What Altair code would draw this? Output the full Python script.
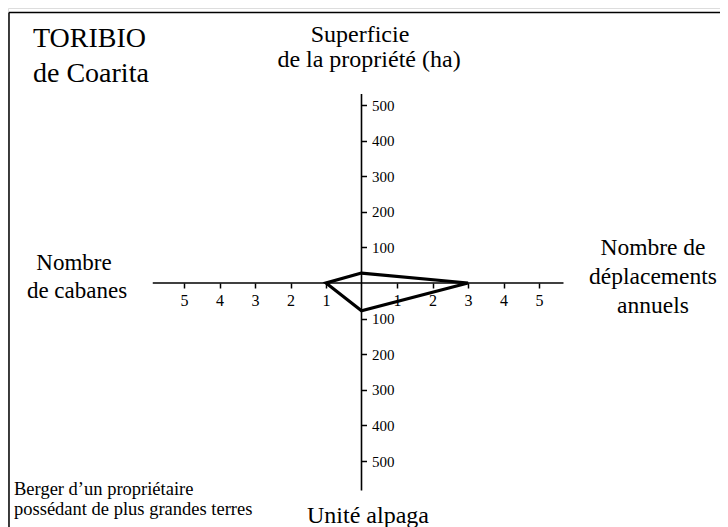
import altair as alt
import pandas as pd

# ---- data ----
axis_names = ["Superficie de la propriété (ha)", "Nombre de déplacements annuels",
              "Unité alpaga", "Nombre de cabanes"]
poly_x = [0, 3, 0, -1, 0]
poly_y = [28, 0, -78, 0, 28]
x_ticks = [-5, -4, -3, -2, -1, 1, 2, 3, 4, 5]
y_ticks = [-500, -400, -300, -200, -100, 100, 200, 300, 400, 500]
h_axis = [-5.88, 5.69]
v_axis = [531, -583]

FONT = "'Liberation Serif', 'Times New Roman', Times, 'DejaVu Serif', serif"
W, H = 712, 519
CX, CY = 353.5, 275.0          # pixel position of the origin inside the plot
PX_X, PX_Y = 35.5, 0.356       # pixels per unit

xscale = alt.Scale(domain=[-CX / PX_X, (W - CX) / PX_X], nice=False, zero=False)
yscale = alt.Scale(domain=[-(H - CY) / PX_Y, CY / PX_Y], nice=False, zero=False)

poly = pd.DataFrame({"x": poly_x, "y": poly_y, "o": list(range(len(poly_x)))})
axes_df = pd.DataFrame({
    "x": [h_axis[0], 0], "x2": [h_axis[1], 0],
    "y": [0, v_axis[0]], "y2": [0, v_axis[1]],
})

xaxis = alt.Axis(values=x_ticks, labelExpr="abs(datum.value)", offset=CY - H, orient="bottom",
                 domain=False, grid=False, title=None, tickSize=5, tickWidth=1.5,
                 tickColor="black", labelColor="black", labelFont=FONT, labelFontSize=16,
                 labelPadding=4, labelOverlap=False, labelFlush=False)
yaxis = alt.Axis(values=y_ticks, labelExpr="abs(datum.value)", offset=CX - W, orient="right",
                 domain=False, grid=False, title=None, tickSize=5, tickWidth=1.5,
                 tickColor="black", labelColor="black", labelFont=FONT, labelFontSize=15,
                 labelPadding=5, labelOverlap=False, labelFlush=False)

X = alt.X("x:Q", scale=xscale, axis=xaxis)
Y = alt.Y("y:Q", scale=yscale, axis=yaxis)

axis_lines = alt.Chart(axes_df).mark_rule(color="black", strokeWidth=1.6).encode(
    x=X, x2="x2:Q", y=Y, y2="y2:Q")

shape = alt.Chart(poly).mark_line(color="black", strokeWidth=3.2, strokeJoin="miter").encode(
    x=X, y=Y, order="o:Q")

one = pd.DataFrame({"a": [0]})


def txt(lines, x, y, size, align="center", lh=None):
    return alt.Chart(one).mark_text(
        font=FONT, fontSize=size, align=align, baseline="alphabetic", color="black",
        lineHeight=lh if lh else size * 1.2,
    ).encode(x=alt.value(x), y=alt.value(y), text=alt.value(lines))


texts = [
    txt(["TORIBIO", "de Coarita"], 25, 39, 28, align="left", lh=35),
    txt("Superficie", 352, 34, 24),
    txt("de la propriété (ha)", 361, 59, 24),
    txt("Nombre", 66, 262, 23),
    txt("de cabanes", 69, 290, 23),
    txt(["Nombre de", "déplacements", "annuels"], 645, 247, 23.5, lh=29),
    txt("Unité alpaga", 360, 515, 24),
    txt(["Berger d\u2019un propriétaire", "possédant de plus grandes terres"], 6, 487, 18.5,
        align="left", lh=20),
]

border = [
    alt.Chart(one).mark_rule(color="black", strokeWidth=1.5).encode(
        x=alt.value(1), y=alt.value(4.5), y2=alt.value(H)),
    alt.Chart(one).mark_rule(color="black", strokeWidth=1.5).encode(
        x=alt.value(1), x2=alt.value(W), y=alt.value(4.5)),
]

chart = alt.layer(axis_lines, shape, *texts, *border).properties(
    width=W, height=H, padding=0, autosize=alt.AutoSizeParams(type="none"),
).configure_view(stroke=None).configure(background="white")

chart.save("out.html", embed_options={"renderer": "svg", "actions": False})
